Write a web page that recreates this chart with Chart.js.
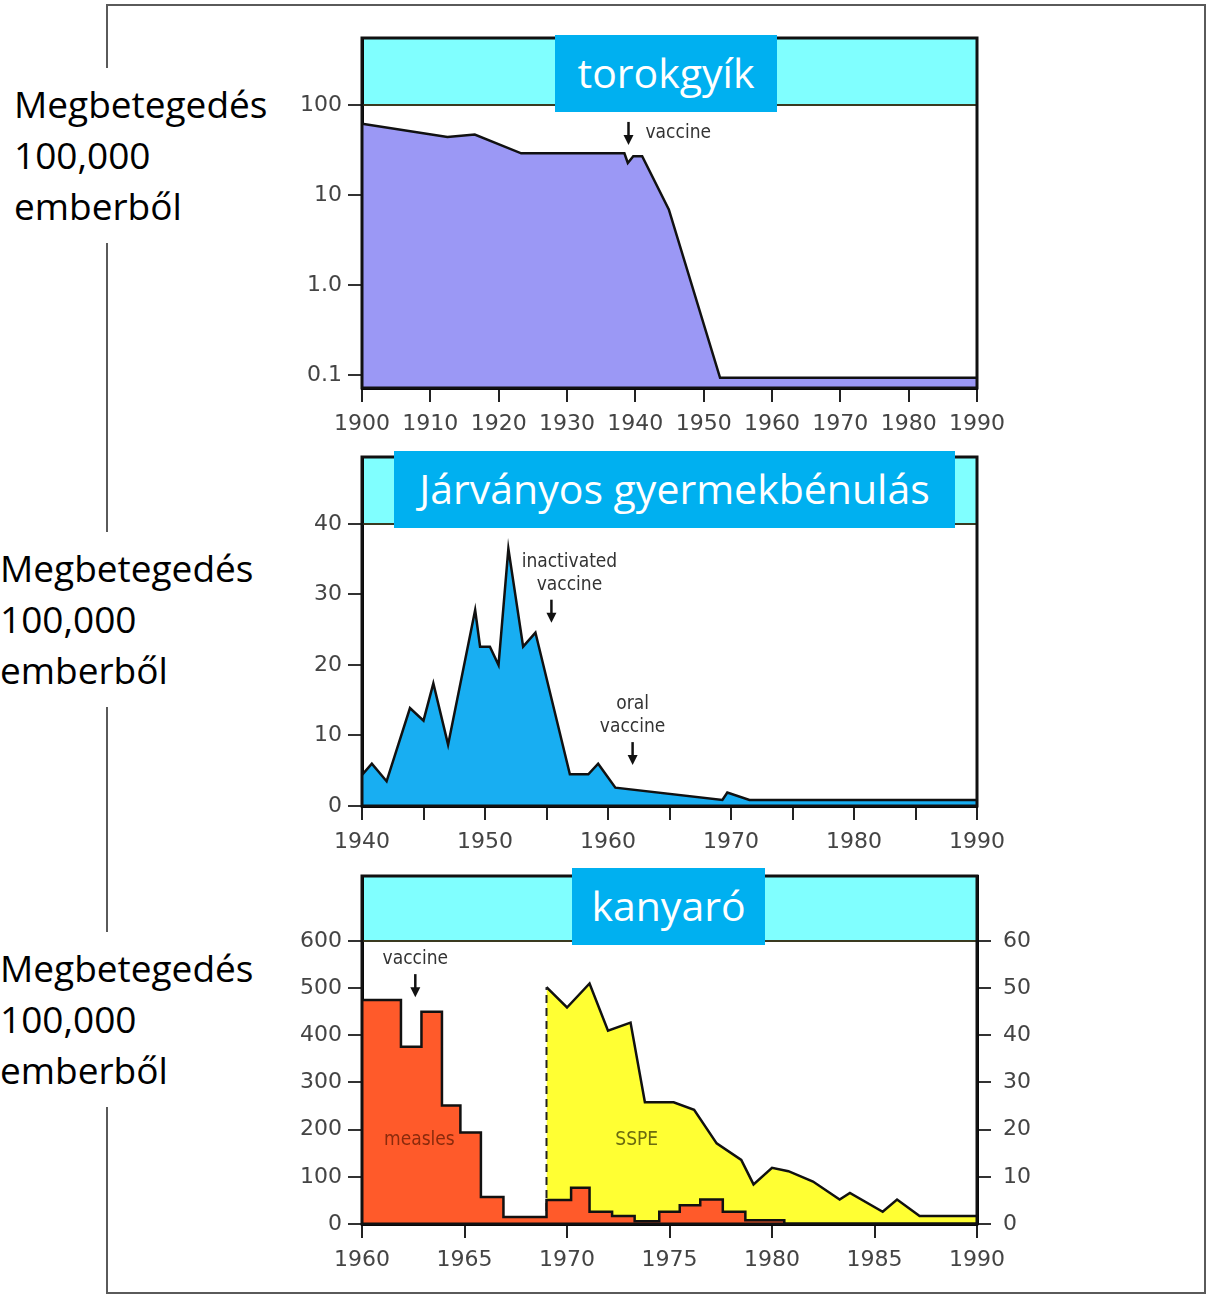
<!DOCTYPE html>
<html lang="hu">
<head>
<meta charset="UTF-8">
<title>Megbetegedés 100,000 emberből</title>
<script src="https://cdn.jsdelivr.net/npm/chart.js"></script>
<style>
    body { margin: 0; background: #fff; width: 1207px; height: 1295px; position: relative; overflow: hidden; font-family: 'Open Sans', 'Noto Sans', sans-serif; }
    .frame { position: absolute; left: 106px; top: 4px; width: 1096px; height: 1286px; border: 2px solid #5a5a5a; }
    .side { position: absolute; background: #fff; font-size: 37px; line-height: 51px; color: #000; padding: 10px 4px 12px 0; white-space: nowrap; }
    .title { position: absolute; background: #00b0f0; color: #fff; font-size: 41px; text-align: center; height: 77px; line-height: 74px; z-index: 2; white-space: nowrap; }
    canvas { position: absolute; }
</style>
</head>
<body>
<div class="frame"></div>

<canvas id="dip" width="750" height="420" style="left:280px; top:30px;"></canvas>
<canvas id="polio" width="750" height="420" style="left:280px; top:445px;"></canvas>
<canvas id="measles" width="770" height="429" style="left:280px; top:866px;"></canvas>

<div class="side" style="left:14px; top:68px;">Megbetegedés<br>100,000<br>emberből</div>
<div class="side" style="left:0px; top:532px;">Megbetegedés<br>100,000<br>emberből</div>
<div class="side" style="left:0px; top:932px;">Megbetegedés<br>100,000<br>emberből</div>

<div class="title" style="left:555px; top:35px; width:222px;">torokgyík</div>
<div class="title" style="left:394px; top:451px; width:561px;">Járványos gyermekbénulás</div>
<div class="title" style="left:572px; top:868px; width:193px;">kanyaró</div>

<script>
// torokgyík (log scale)
const dipYears = [1900, 1912.5, 1916.5, 1923.3, 1938.4, 1938.9, 1939.7, 1941, 1944.9, 1952.4, 1990];
const dipRate  = [62, 44, 47, 29, 29, 22.7, 27, 27, 6.9, 0.093, 0.093];
const dipTicks = [0.1, 1, 10, 100];
const dipTickLabels = ['0.1', '1.0', '10', '100'];

// járványos gyermekbénulás
const polioYears = [1940, 1940.8, 1942.0, 1943.9, 1945.0, 1945.8, 1947.0, 1949.2, 1949.6, 1950.4, 1951.1,
                    1951.9, 1953.1, 1954.1, 1956.9, 1958.4, 1959.2, 1960.6, 1969.3, 1969.7, 1971.5, 1990];
const polioRate  = [4.4, 6.0, 3.5, 13.9, 12.1, 17.4, 8.7, 27.8, 22.6, 22.6, 20,
                    36.5, 22.6, 24.6, 4.5, 4.5, 6.0, 2.6, 0.85, 1.9, 0.85, 0.85];
const polioTicks = [0, 10, 20, 30, 40];

// kanyaró (measles, left axis) and SSPE (right axis)
const measlesYears = [1960, 1961.9, 1962.9, 1963.9, 1964.8, 1965.8, 1966.9, 1969.0, 1970.2, 1971.1,
                      1972.2, 1973.3, 1974.5, 1975.5, 1976.5, 1977.6, 1978.7, 1980.6, 1990];
const measlesRate  = [475, 376, 450, 251, 194, 57, 15, 51, 77, 26,
                      17, 6, 26, 40, 52, 26, 8, 0.5, 0.5];
const sspeYears = [1969.0, 1970.0, 1971.1, 1972.0, 1973.1, 1973.8, 1975.2, 1976.2, 1977.3, 1978.5,
                   1979.1, 1980.0, 1980.8, 1982.0, 1983.3, 1983.8, 1985.4, 1986.1, 1987.2, 1990];
const sspeRate  = [50.2, 45.9, 51, 41, 42.7, 25.8, 25.8, 24.2, 17.1, 13.6,
                   8.4, 11.9, 11.2, 9, 5.2, 6.6, 2.6, 5.2, 1.7, 1.7];
const measlesTicks = [0, 100, 200, 300, 400, 500, 600];
const sspeTicks = [0, 10, 20, 30, 40, 50, 60];

const tickFont = { family: "'DejaVu Sans', sans-serif", style: 'condensed', size: 22 };
const noteFont = "condensed 19px 'DejaVu Sans', sans-serif";

function points(xs, ys) {
    return xs.map((x, i) => ({ x: x, y: ys[i] }));
}

// cyan band above the top tick, frame, and the little notes with arrows
const bandPlugin = {
    id: 'band',
    beforeDraw(chart, args, opts) {
        const ctx = chart.ctx, a = chart.chartArea;
        const y = chart.scales.y.getPixelForValue(opts.from);
        ctx.save();
        ctx.fillStyle = '#80ffff';
        ctx.fillRect(a.left, a.top, a.right - a.left, y - a.top);
        ctx.restore();
    },
    afterDraw(chart, args, opts) {
        const ctx = chart.ctx, a = chart.chartArea;
        const y = chart.scales.y.getPixelForValue(opts.from);
        ctx.save();
        ctx.strokeStyle = '#3a3a20';
        ctx.lineWidth = 2;
        ctx.beginPath();
        ctx.moveTo(a.left, y);
        ctx.lineTo(a.right, y);
        ctx.stroke();
        ctx.strokeStyle = '#111';
        ctx.lineWidth = 3;
        ctx.strokeRect(a.left, a.top, a.right - a.left, a.bottom - a.top);

        ctx.font = noteFont;
        ctx.textBaseline = 'middle';
        (opts.notes || []).forEach(n => {
            const x = chart.scales.x.getPixelForValue(n.x);
            const tip = chart.scales[n.axis || 'y'].getPixelForValue(n.y);
            ctx.fillStyle = n.color || '#333';
            if (!n.arrow) {
                ctx.textAlign = 'center';
                ctx.fillText(n.text[0], x, tip);
                return;
            }
            ctx.strokeStyle = '#111';
            ctx.lineWidth = 2.5;
            ctx.beginPath();
            ctx.moveTo(x, tip - 23);
            ctx.lineTo(x, tip - 8);
            ctx.stroke();
            ctx.fillStyle = '#111';
            ctx.beginPath();
            ctx.moveTo(x - 5, tip - 10);
            ctx.lineTo(x + 5, tip - 10);
            ctx.lineTo(x, tip);
            ctx.closePath();
            ctx.fill();
            ctx.fillStyle = '#333';
            if (n.side === 'right') {
                ctx.textAlign = 'left';
                ctx.fillText(n.text[0], x + 17, tip - 12);
            } else {
                ctx.textAlign = 'center';
                const last = n.text.length - 1;
                n.text.forEach((t, i) => {
                    ctx.fillText(t, x + (n.dx || 0), tip - 38 - (last - i) * 23);
                });
            }
        });
        ctx.restore();
    }
};

function xAxis(min, max, step, every, height) {
    return {
        type: 'linear', min: min, max: max,
        ticks: {
            stepSize: step, autoSkip: false, maxRotation: 0, color: '#444', font: tickFont, padding: 9,
            callback: v => (v % every === 0 ? String(v) : '')
        },
        grid: { drawOnChartArea: false, drawTicks: true, tickLength: 14, color: '#222', lineWidth: 2 },
        border: { color: '#000', width: 3 },
        afterFit: s => { s.height = height; s.paddingLeft = 0; s.paddingRight = 0; }
    };
}

function yAxis(extra, tickValues, labels, width, side) {
    return Object.assign({
        position: side || 'left',
        afterBuildTicks: s => { s.ticks = tickValues.map(v => ({ value: v })); },
        ticks: {
            autoSkip: false, color: '#444', font: tickFont, padding: side === 'right' ? 12 : 6,
            callback: v => labels[tickValues.indexOf(v)]
        },
        grid: { drawOnChartArea: false, drawTicks: true, tickLength: 14, color: '#333', lineWidth: 2 },
        border: { color: '#000', width: 3 },
        afterFit: s => { s.width = width; s.paddingTop = 0; s.paddingBottom = 0; }
    }, extra);
}

const common = {
    responsive: false,
    animation: false,
    events: [],
    plugins: { legend: { display: false }, tooltip: { enabled: false } }
};

new Chart(document.getElementById('dip'), {
    type: 'line',
    data: {
        datasets: [{
            data: points(dipYears, dipRate),
            fill: 'start',
            backgroundColor: '#9b98f5',
            borderColor: '#111',
            borderWidth: 2.5,
            pointRadius: 0,
            tension: 0
        }]
    },
    options: Object.assign({}, common, {
        layout: { autoPadding: false, padding: { top: 8, right: 53, left: 0, bottom: 0 } },
        scales: {
            x: xAxis(1900, 1990, 10, 10, 62),
            y: yAxis({ type: 'logarithmic', min: 0.0717, max: 555 }, dipTicks, dipTickLabels, 82)
        },
        plugins: Object.assign({}, common.plugins, {
            band: { from: 100, notes: [{ x: 1939, y: 36, arrow: true, side: 'right', text: ['vaccine'] }] }
        })
    }),
    plugins: [bandPlugin]
});

new Chart(document.getElementById('polio'), {
    type: 'line',
    data: {
        datasets: [{
            data: points(polioYears, polioRate),
            fill: 'origin',
            backgroundColor: '#18aef2',
            borderColor: '#111',
            borderWidth: 2.5,
            pointRadius: 0,
            tension: 0
        }]
    },
    options: Object.assign({}, common, {
        layout: { autoPadding: false, padding: { top: 12, right: 53, left: 0, bottom: 0 } },
        scales: {
            x: xAxis(1940, 1990, 5, 10, 59),
            y: yAxis({ type: 'linear', min: 0, max: 49.5 }, polioTicks, polioTicks.map(String), 82)
        },
        plugins: Object.assign({}, common.plugins, {
            band: {
                from: 40,
                notes: [
                    { x: 1955.4, y: 26, arrow: true, dx: 18, text: ['inactivated', 'vaccine'] },
                    { x: 1962, y: 5.8, arrow: true, text: ['oral', 'vaccine'] }
                ]
            }
        })
    }),
    plugins: [bandPlugin]
});

new Chart(document.getElementById('measles'), {
    type: 'line',
    data: {
        datasets: [{
            data: points(measlesYears, measlesRate),
            yAxisID: 'y',
            stepped: true,
            fill: 'origin',
            backgroundColor: '#ff5a2a',
            borderColor: '#111',
            borderWidth: 2.5,
            pointRadius: 0,
            order: 0
        }, {
            data: [{ x: sspeYears[0], y: 0 }, { x: sspeYears[0], y: sspeRate[0] }],
            yAxisID: 'y2',
            fill: false,
            borderColor: '#222',
            borderWidth: 2,
            borderDash: [8, 5],
            pointRadius: 0,
            order: 1
        }, {
            data: points(sspeYears, sspeRate),
            yAxisID: 'y2',
            fill: 'origin',
            backgroundColor: '#ffff33',
            borderColor: '#111',
            borderWidth: 2.5,
            pointRadius: 0,
            tension: 0,
            order: 2
        }]
    },
    options: Object.assign({}, common, {
        layout: { autoPadding: false, padding: { top: 10, right: 0, left: 0, bottom: 0 } },
        scales: {
            x: xAxis(1960, 1990, 5, 5, 71),
            y: yAxis({ type: 'linear', min: 0, max: 737.8 }, measlesTicks, measlesTicks.map(String), 82),
            y2: yAxis({ type: 'linear', min: 0, max: 73.78 }, sspeTicks, sspeTicks.map(String), 73, 'right')
        },
        plugins: Object.assign({}, common.plugins, {
            band: {
                from: 600,
                notes: [
                    { x: 1962.6, y: 481, arrow: true, text: ['vaccine'] },
                    { x: 1962.8, y: 178, color: '#8a2a0c', text: ['measles'] },
                    { x: 1973.4, y: 178, color: '#6b6b10', text: ['SSPE'] }
                ]
            }
        })
    }),
    plugins: [bandPlugin]
});
</script>
</body>
</html>
